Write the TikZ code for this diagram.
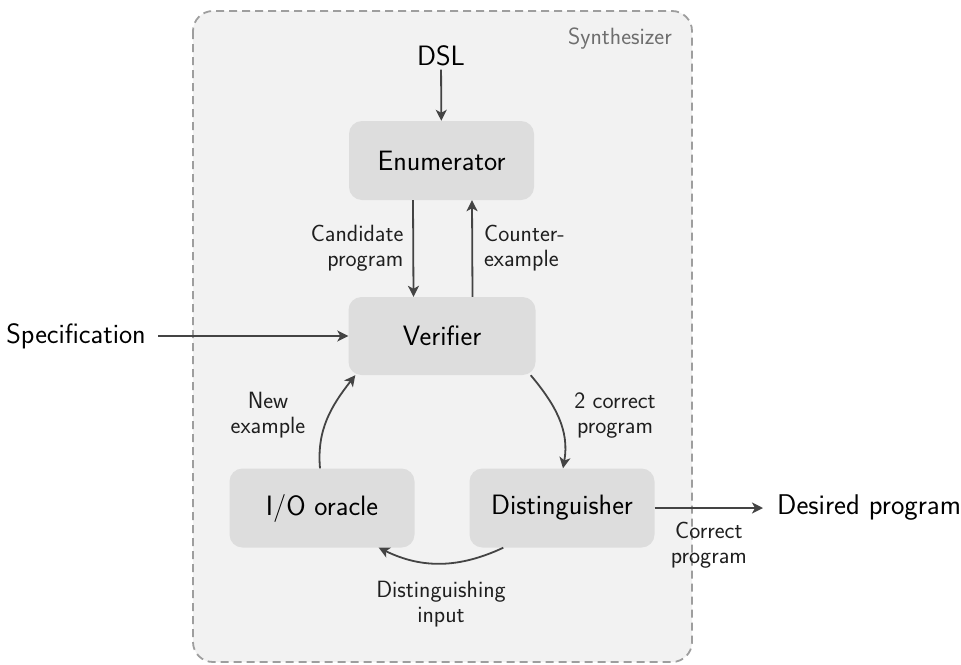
\documentclass[tikz,border=0pt]{standalone}
\usetikzlibrary{arrows.meta}
\definecolor{bggray}{HTML}{F2F2F2}
\definecolor{boxgray}{HTML}{DDDDDD}
\definecolor{dashgray}{HTML}{9E9E9E}
\definecolor{arrowgray}{HTML}{444444}
\definecolor{synthgray}{HTML}{6E6E6E}
\begin{document}
\begin{tikzpicture}[x=1pt,y=-1pt,
  font=\sffamily\fontsize{28}{33}\selectfont,
  block/.style={fill=boxgray, rounded corners=13pt, minimum width=185pt,
    minimum height=79pt, inner sep=0pt},
  flow/.style={draw=arrowgray, line width=1.8pt,
    -{Stealth[length=11pt,width=11pt,inset=3pt]}},
  lbl/.style={font=\sffamily\fontsize{23.5}{25}\selectfont, text=black!88,
    align=center, inner sep=0pt}]
\useasboundingbox (0,0) rectangle (961,664);
% synthesizer frame
\draw[fill=bggray, draw=dashgray, line width=1.8pt,
  dash pattern=on 8pt off 5pt, rounded corners=20pt] (193,11) rectangle (692,662);
\node[lbl, text=synthgray, anchor=east] (syn) at (672,39) {Synthesizer};

% components
\node (dsl) at (441,56) {DSL};
\node[block] (enum) at (441.5,160.5) {Enumerator};
\node[block, minimum width=187pt, minimum height=78pt] (ver) at (442,336) {Verifier};
\node[block] (io) at (322,508) {I/O oracle};
\node[block] (dist) at (562,508) {Distinguisher};
\node[anchor=east, inner xsep=12pt] (spec) at (158,336) {Specification};
\node[anchor=west, inner xsep=14pt, font=\sffamily\fontsize{28.5}{33}\selectfont]
  (des) at (763,508) {Desired program};

% connectors
\draw[flow] (dsl) -- (enum);
\draw[flow] ([xshift=-28.5pt]enum.south) -- ([xshift=-28.5pt]ver.north)
  node[midway, left=9pt, lbl, align=right] {Candidate\\program};
\draw[flow] ([xshift=30.5pt]ver.north) -- ([xshift=30.5pt]enum.south)
  node[midway, right=11pt, lbl, align=left] {Counter-\\example};
\draw[flow] (spec) -- (ver);
\draw[flow] (dist.east) -- (dist.east -| des.west)
  node[midway, below=13pt, lbl] {Correct\\program};
\draw[flow] ([xshift=-2pt]io.north) to[out=95, in=-128] ([xshift=7pt]ver.south west);
\draw[flow] ([xshift=-5pt]ver.south east) to[out=-50, in=80] ([xshift=1pt]dist.north);
\draw[flow] ([xshift=34pt]dist.south west) to[out=-155, in=-26] ([xshift=-36pt]io.south east);

% edge labels
\node[lbl] (newex) at (268,415) {New\\example};
\node[lbl] (twocp) at (615,415) {2 correct\\program};
\node[lbl] (disin) at (441,604) {Distinguishing\\input};
\end{tikzpicture}
\end{document}
